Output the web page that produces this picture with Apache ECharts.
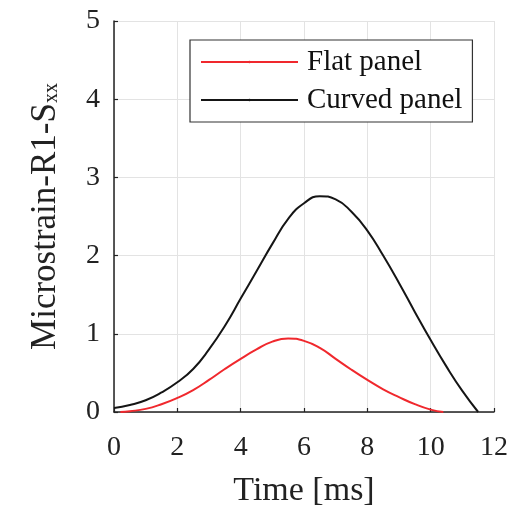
<!DOCTYPE html>
<html lang="en">
<head>
    <meta charset="UTF-8">
    <title>Microstrain</title>
    <script src="https://cdn.jsdelivr.net/npm/echarts@6/dist/echarts.min.js"></script>
    <style>
        html, body { margin: 0; padding: 0; background: #fff; }
    </style>
</head>
<body>
<div id="main" style="width: 518px;height:513px;"></div>
<script>
    // time [ms] and strain for the flat panel
    const flatTime = [0.2, 0.5, 1, 1.5, 2, 2.5, 3, 3.5, 4, 4.5, 5, 5.5, 6, 6.5, 7, 7.5, 8, 8.5, 9, 9.5, 10, 10.4];
    const flatStrain = [0, 0.01, 0.04, 0.1, 0.18, 0.28, 0.41, 0.55, 0.68, 0.8, 0.9, 0.94, 0.91, 0.82, 0.68, 0.54, 0.41, 0.29, 0.19, 0.1, 0.03, 0];
    // time [ms] and strain for the curved panel
    const curvedTime = [0, 0.5, 1, 1.5, 2, 2.5, 3, 3.5, 4, 4.5, 5, 5.5, 6, 6.5, 7, 7.5, 8, 8.5, 9, 9.5, 10, 10.5, 11, 11.5];
    const curvedStrain = [0.05, 0.09, 0.15, 0.25, 0.38, 0.55, 0.8, 1.1, 1.45, 1.8, 2.15, 2.47, 2.67, 2.76, 2.72, 2.56, 2.32, 2.0, 1.65, 1.28, 0.92, 0.58, 0.27, 0];
    const seriesNames = ['Flat panel', 'Curved panel'];

    const font = 'Liberation Serif';
    let myChart = echarts.init(document.getElementById('main'));

    let axisCommon = {
        axisLine: { lineStyle: { color: '#222', width: 1.5 } },
        axisTick: { inside: true, length: 4, lineStyle: { color: '#222', width: 1.2 } },
        axisLabel: { color: '#222', fontFamily: font, fontSize: 28 },
        splitLine: { show: true, lineStyle: { color: '#e3e3e3', width: 1 } }
    };

    let option = {
        animation: false,
        grid: { left: 114, right: 24, top: 21, bottom: 100 },
        legend: {
            data: seriesNames,
            orient: 'vertical',
            left: 190,
            top: 40,
            width: 287,
            padding: [7, 10, 7, 10],
            itemGap: 8,
            itemWidth: 97,
            itemHeight: 3,
            borderColor: '#333',
            borderWidth: 1.2,
            backgroundColor: '#fff',
            textStyle: { color: '#111', fontFamily: font, fontSize: 29, lineHeight: 30, padding: [0, 0, 0, 4] }
        },
        xAxis: Object.assign({}, axisCommon, {
            type: 'value',
            min: 0, max: 12, interval: 2,
            name: 'Time [ms]',
            nameLocation: 'middle',
            nameGap: 62,
            nameTextStyle: { color: '#222', fontFamily: font, fontSize: 34 },
            axisLabel: Object.assign({}, axisCommon.axisLabel, { margin: 22 })
        }),
        yAxis: Object.assign({}, axisCommon, {
            type: 'value',
            min: 0, max: 5, interval: 1,
            name: '{a|Microstrain-R1-S}{b|xx}',
            nameLocation: 'middle',
            nameGap: 52,
            nameTextStyle: {
                rich: {
                    a: { color: '#222', fontFamily: font, fontSize: 35, lineHeight: 34, verticalAlign: 'top' },
                    b: { color: '#222', fontFamily: font, fontSize: 20, lineHeight: 20, padding: [32, 0, 0, 0], verticalAlign: 'bottom' }
                }
            },
            axisLabel: Object.assign({}, axisCommon.axisLabel, { margin: 14 })
        }),
        series: [
            {
                name: seriesNames[0],
                type: 'line',
                smooth: true,
                showSymbol: false,
                symbol: 'none',
                data: flatTime.map((t, i) => [t, flatStrain[i]]),
                lineStyle: { color: '#f0282d', width: 2 },
                itemStyle: { color: '#f0282d' }
            },
            {
                name: seriesNames[1],
                type: 'line',
                smooth: true,
                showSymbol: false,
                symbol: 'none',
                data: curvedTime.map((t, i) => [t, curvedStrain[i]]),
                lineStyle: { color: '#151515', width: 2 },
                itemStyle: { color: '#151515' }
            }
        ]
    };
    myChart.setOption(option);
</script>
</body>
</html>
